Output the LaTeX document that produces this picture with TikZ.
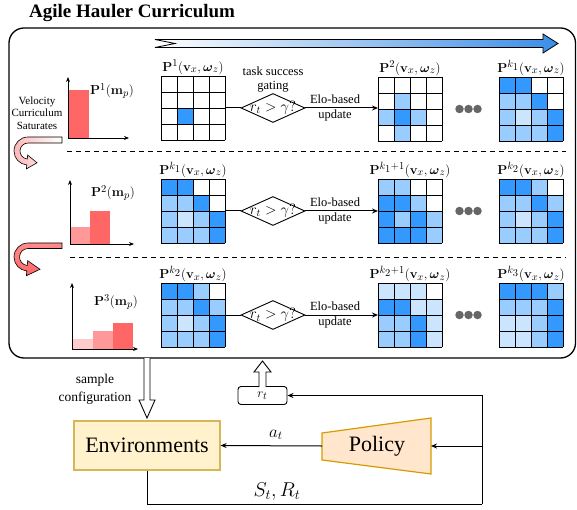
\RequirePackage{fix-cm}
\documentclass[tikz,border=0pt]{standalone}
\usepackage{amsmath}
\usepackage[no-math]{fontspec}
\setmainfont{Liberation Serif}
\usetikzlibrary{arrows.meta,shapes.geometric,calc}
\DeclareMathSizes{13}{13}{10.5}{8}
\definecolor{bD}{HTML}{3399FF}
\definecolor{bL}{HTML}{99CCFF}
\definecolor{bV}{HTML}{CCE5FF}
\definecolor{bW}{HTML}{FFFFFF}
\definecolor{rD}{HTML}{FF6666}
\definecolor{rL}{HTML}{FF9999}
\definecolor{rV}{HTML}{FFCCCC}
\definecolor{envfill}{HTML}{FFF2CC}
\definecolor{envline}{HTML}{D6B656}
\definecolor{polfill}{HTML}{FFE6CC}
\definecolor{polline}{HTML}{D79B00}
\definecolor{dotgray}{HTML}{666666}
\definecolor{arrblue}{HTML}{3A8EE6}
\newcommand\fsSmall{\fontsize{12.5}{14}\selectfont}
\newcommand\fsMath{\fontsize{13}{15}\selectfont}
\newcommand\fsTiny{\fontsize{11}{12.5}\selectfont}
\newcommand\fsMid{\fontsize{13.5}{18}\selectfont}
\newcommand\fsBig{\fontsize{22}{26}\selectfont}
\newcommand\mygrid[3]{%
  \node[gridnode, anchor=north west] (#1) at (#2) {};
  \foreach \cl [count=\idx from 0] in {#3} {
    \pgfmathtruncatemacro\rr{\idx/4}
    \pgfmathtruncatemacro\cc{mod(\idx,4)}
    \fill[\cl] ($(#1.north west)+(\cc*16,-\rr*16)$) rectangle ++(16,-16);
  }
  \draw[gridline, shift={(#1.north west)}] (0,0) grid[step=16pt] (64,-64);
}
\newcommand\gtitle[2]{\node[anchor=south, inner sep=1.5pt, font=\fsMath] (#1t) at (#1.north) {$\mathbf{P}^{#2}(\mathbf{v}_x,\boldsymbol{\omega}_z)$};}
\newcommand\kk[1]{k_{\scriptstyle #1}}
\begin{document}
\begin{tikzpicture}[x=1pt,y=1pt,
  smalltxt/.style={font=\fsSmall, inner sep=0pt, align=center},
  conn/.style={line width=1pt, draw=black},
  arrowed/.style={-{Stealth[length=6pt,width=5pt]}},
  axisline/.style={line width=0.9pt, -{Stealth[length=5pt,width=4pt]}},
  gridnode/.style={minimum width=64pt, minimum height=64pt, inner sep=0pt, outer sep=0pt},
  gridline/.style={line width=0.9pt, draw=black},
  dia/.style={draw, shape=diamond, minimum width=64pt, minimum height=29pt, inner sep=0pt, line width=0.9pt, font=\fontsize{15}{17}\selectfont},
  sepline/.style={line width=1pt, dash pattern=on 5pt off 4pt},
  dotstyle/.style={fill=dotgray, circle, minimum size=8.5pt, inner sep=0pt},
  hollow/.style={fill=white, draw=black, line width=0.9pt},
]
\useasboundingbox (0,0) rectangle (577,-510);

% title
\node[anchor=base west, font=\fontsize{19}{22}\selectfont\bfseries, inner sep=0pt] (title) at (29,-18) {Agile Hauler Curriculum};

% big rounded box
\draw[line width=1.3pt, rounded corners=15pt] (9,-28) rectangle (575.5,-358);

% gradient arrow
\shade[left color=white, right color=arrblue, draw=black, line width=0.8pt]
  (155,-39.5) -- (543,-39.5) -- (543,-34) -- (558,-43.5) -- (543,-53) -- (543,-47.5)
  -- (155,-47.5) -- (175,-43.5) -- cycle;

% separators
\draw[sepline] (67,-152) -- (566,-152);
\draw[sepline] (70,-257) -- (566,-257);

% velocity text
\node[smalltxt, font=\fsTiny] (vel) at (37,-113) {Velocity\\Curriculum\\Saturates};

% curved arrows
\shade[left color=red!28!white, right color=white, draw=black, line width=0.6pt]
  (62,-137) -- (28,-137) arc[start angle=90, end angle=265, radius=14]
  -- (26.4,-168.9) -- (37,-162.8) -- (27.65,-155) -- (27.3,-159)
  arc[start angle=265, end angle=90, radius=8] -- (62,-143) -- cycle;
\shade[top color=rD!75!white, bottom color=rD, draw=black, line width=0.6pt]
  (62,-243) -- (28,-243) arc[start angle=90, end angle=265, radius=14]
  -- (26.4,-275.7) -- (40,-269.3) -- (27.7,-260.7) -- (27.3,-265.5)
  arc[start angle=265, end angle=90, radius=8.5] -- (62,-248.5) -- cycle;

% bar charts
\fill[rD] (69,-90) rectangle (89,-138);
\draw[axisline] (68,-138) -- (68,-77);
\draw[axisline] (68,-138) -- (129,-138);
\node[font=\fsMath, inner sep=0pt] (m1) at (112,-91) {$\mathbf{P}^1(\mathbf{m}_p)$};

\fill[rL] (71,-227) rectangle (90,-244);
\fill[rD] (90,-211) rectangle (110,-244);
\draw[axisline] (70,-244) -- (70,-180);
\draw[axisline] (70,-244) -- (134,-244);
\node[font=\fsMath, inner sep=0pt] (m2) at (113,-193) {$\mathbf{P}^2(\mathbf{m}_p)$};

\fill[rV] (73,-339) rectangle (93,-349);
\fill[rL] (93,-331) rectangle (113,-349);
\fill[rD] (113,-323) rectangle (133,-349);
\draw[axisline] (72,-349) -- (72,-283);
\draw[axisline] (72,-349) -- (138,-349);
\node[font=\fsMath, inner sep=0pt] (m3) at (116,-302) {$\mathbf{P}^3(\mathbf{m}_p)$};

% row 1
\mygrid{ga}{161,-76}{bW,bW,bW,bW, bW,bW,bW,bW, bW,bD,bW,bW, bW,bW,bW,bW}
\mygrid{gb}{378,-77}{bW,bW,bW,bW, bW,bL,bW,bW, bL,bD,bL,bW, bW,bL,bW,bW}
\mygrid{gc}{499,-77}{bD,bD,bW,bW, bL,bL,bD,bW, bL,bV,bL,bD, bL,bL,bL,bD}
\gtitle{ga}{1}\gtitle{gb}{2}\gtitle{gc}{\kk1}
\node[dia] (da) at (273,-108) {\makebox[0pt]{$r_t>\gamma?$}};
\node[smalltxt] (gate) at (273,-80) {task success\\gating};
\draw[conn] (ga.east) -- (da.west);
\draw[conn, arrowed] (da.east) -- (gb.west |- da.east);
\node[smalltxt] (eloa) at (335,-108) {Elo-based\\[1pt]update};
\node[dotstyle] (da1) at (459.5,-109) {};
\node[dotstyle] (da2) at (468.5,-109) {};
\node[dotstyle] (da3) at (477.5,-109) {};

% row 2
\mygrid{gd}{161,-179}{bD,bD,bW,bW, bL,bL,bD,bW, bL,bV,bL,bD, bL,bL,bL,bD}
\mygrid{ge}{378,-179}{bL,bL,bW,bW, bD,bD,bL,bW, bD,bL,bD,bL, bD,bD,bD,bL}
\mygrid{gf}{499,-179}{bD,bD,bL,bW, bL,bL,bD,bL, bL,bV,bL,bD, bL,bL,bL,bD}
\gtitle{gd}{\kk1}\gtitle{ge}{\kk1+1}\gtitle{gf}{\kk2}
\node[dia] (db) at (273,-211) {\makebox[0pt]{$r_t>\gamma?$}};
\draw[conn] (gd.east) -- (db.west);
\draw[conn, arrowed] (db.east) -- (ge.west);
\node[smalltxt] (elob) at (335,-211) {Elo-based\\[1pt]update};
\node[dotstyle] (db1) at (459.5,-211) {};
\node[dotstyle] (db2) at (468.5,-211) {};
\node[dotstyle] (db3) at (477.5,-211) {};

% row 3
\mygrid{gg}{161,-283}{bD,bD,bL,bW, bL,bL,bD,bL, bL,bV,bL,bD, bL,bL,bL,bD}
\mygrid{gh}{378,-283}{bV,bV,bV,bW, bD,bD,bV,bV, bL,bL,bD,bV, bL,bL,bD,bV}
\mygrid{gi}{499,-283}{bD,bD,bD,bL, bL,bL,bL,bD, bV,bV,bL,bD, bV,bV,bL,bD}
\gtitle{gg}{\kk2}\gtitle{gh}{\kk2+1}\gtitle{gi}{\kk3}
\node[dia] (dc) at (273,-315) {\makebox[0pt]{$r_t>\gamma?$}};
\draw[conn] (gg.east) -- (dc.west);
\draw[conn, arrowed] (dc.east) -- (gh.west);
\node[smalltxt] (eloc) at (335,-315) {Elo-based\\[1pt]update};
\node[dotstyle] (dc1) at (459.5,-315) {};
\node[dotstyle] (dc2) at (468.5,-315) {};
\node[dotstyle] (dc3) at (477.5,-315) {};

% bottom loop
\node[draw=envline, fill=envfill, line width=1.2pt, minimum width=146pt, minimum height=49pt, inner sep=0pt, font=\fsBig] (env) at (147,-445.5) {Environments};
\filldraw[fill=polfill, draw=polline, line width=1.2pt] (322,-433) -- (431,-418) -- (431,-474) -- (322,-460) -- cycle;
\node[font=\fsBig, inner sep=0pt] (pol) at (377,-446) {Policy};
\coordinate (polL) at (322,-446);
\coordinate (polR) at (431,-446);
\node[draw, rounded corners=3pt, line width=0.9pt, minimum width=49pt, minimum height=18pt, inner sep=0pt, font=\fontsize{13}{15}\selectfont] (rt) at (262.5,-395.5) {$r_t$};

\coordinate (lbl) at (147,-504);
\coordinate (lbr) at (482,-504);
\coordinate (lpol) at (482,-446);
\draw[conn] (env.south) -- (lbl) -- (lbr);
\draw[conn, arrowed] (lbr) |- (rt.east);
\draw[conn, arrowed] (lpol) -- (polR);
\draw[conn, arrowed] (polL) -- (env.east);
\node[font=\fontsize{17}{20}\selectfont, inner sep=0pt] (at) at (276,-435) {$a_t$};
\node[font=\fontsize{20}{24}\selectfont, inner sep=0pt] (st) at (277,-492) {$S_t,R_t$};

% hollow arrows
\draw[hollow] (144,-358) -- (144,-400) -- (139,-400) -- (147,-418) -- (155,-400) -- (150,-400) -- (150,-358);
\draw[hollow] (259,-387) -- (259,-372) -- (254,-372) -- (262.5,-361) -- (271,-372) -- (266,-372) -- (266,-387);
\node[font=\fsMid, align=center, inner sep=0pt] (samp) at (95,-389) {sample\\configuration};
\end{tikzpicture}
\end{document}
